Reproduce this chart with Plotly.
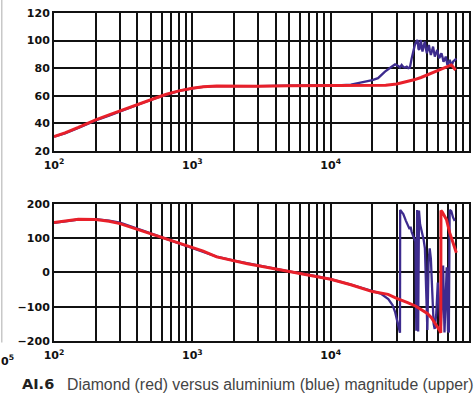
import plotly.graph_objects as go

# ---------------- data ----------------
# Magnitude (upper panel)
mag_freq_red = [100, 120, 150, 200, 250, 300, 370, 450, 550, 650, 800, 1000, 1200, 1500,
                2000, 3000, 5000, 7000, 10000, 15000, 20000, 25000, 30000, 35000, 40000,
                45000, 50000, 55000, 60000, 63000, 66000, 69000, 72000, 74500, 76500, 78000, 80000]
mag_red = [30.4, 33, 37, 42.5, 46, 49, 52, 55.5, 58.5, 61, 63.5, 65.4, 66.4, 67,
           66.8, 66.8, 67.2, 67.2, 67, 67, 67.2, 67.5, 68.5, 70, 71.5,
           73.2, 75, 76.8, 78.3, 79.4, 80.3, 80.8, 81.8, 82.3, 81, 80, 78.5]

mag_freq_blue = [100, 120, 150, 200, 250, 300, 370, 450, 550, 650, 800, 1000, 1200, 1500,
                 2000, 3000, 5000, 7000, 10000, 12000, 14000, 17000, 20000, 22000, 24700,
                 27600, 29200, 30800, 31700, 32600, 33500, 34500, 35500, 36400, 37400,
                 38500, 39500, 40600, 41500, 42500, 43100, 43700, 44300, 44900, 45500,
                 46100, 47000, 48000, 48800, 49600, 50500, 51300, 52100, 53000, 54000,
                 55000, 55800, 56600, 57700, 58900, 59900, 60800, 62000, 63200, 64300,
                 65400, 66600, 67900, 68800, 69800, 71200, 72600, 73600, 74600, 76700,
                 78900, 81000]
mag_blue = [30.2, 32.6, 36.5, 42, 45.5, 48.6, 51.6, 55.2, 58.3, 60.8, 63.4, 65.3, 66.4, 67,
            66.9, 66.9, 67.3, 67.4, 67.3, 67.6, 68, 69.5, 71.3, 72.7, 77.5,
            81, 82.8, 81.6, 80.5, 82.3, 80.8, 80.4, 81, 80, 80.4,
            87, 93, 96.8, 99, 100.4, 94, 93.2, 97, 100.4, 95,
            92, 96, 99.2, 94, 90.8, 94, 96.8, 93, 89.6, 92.5,
            95.6, 92, 88.4, 90.5, 93.2, 90, 87.2, 88.6, 90.8, 88,
            84.7, 86, 88.4, 85.5, 82.3, 84, 86, 84, 81.1, 84.7,
            86, 87]

# Phase (lower panel)
ph_freq_red = [100, 120, 150, 200, 250, 300, 370, 450, 550, 650, 800, 1000, 1200, 1500,
               2000, 2500, 3000, 4000, 5000, 7000, 10000, 14000, 20000, 26000, 30000,
               36000, 41000, 45000, 50000, 53500, 56500, 59800, 61500, 62500, 62700,
               64000, 65500, 68700, 72600, 77000, 81000]
ph_red = [145, 150, 155, 154, 149, 142, 130, 118, 107, 98, 85, 72, 62, 45,
          33, 25, 19, 10, 2, -8, -20, -36, -56, -64, -76,
          -88, -98, -108, -120, -132, -146, -161, -170, -176, 180,
          176, 168, 154, 115, 85, 57]

ph_freq_blue = [100, 120, 150, 200, 250, 300, 370, 450, 550, 650, 800, 1000, 1200, 1500,
                2000, 2500, 3000, 4000, 5000, 7000, 10000, 14000, 20000, 23000, 26100,
                28000, 29200, 30500, 31700, 31800, 33500, 35000, 36500, 37200, 37800,
                38500, 40000, 41000, 41600, 42200, 42900, 43500, 44300, 45500, 47000,
                48000, 49000, 50000, 51000, 52000, 53000, 54000, 55500, 56500, 58000,
                59500, 61000, 62500, 64000, 65000, 66500, 68000, 69000, 70500, 71500,
                72500, 74500, 76700, 78900]
ph_blue = [144, 149, 154, 155, 151, 145, 133, 120, 108, 98, 85, 72, 61, 46,
           34, 26, 20, 11, 3, -7, -20, -36, -56, -62, -78,
           -95, -115, -145, -176, 182, 170, 150, 130, 126, 133,
           118, 100, 90, -170, 182, -172, 180, 140, 120, 95,
           70, -100, -168, 30, 70, 40, -60, -150, -165, -120,
           -30, -110, -165, -80, 20, -175, -40, 15, -170, -175,
           182, 178, 160, 150]

decade_vals = [100, 1000, 10000, 100000]
decade_labels = ["10<sup>2</sup>", "10<sup>3</sup>", "10<sup>4</sup>", "10<sup>5</sup>"]
mag_ticks = [20, 40, 60, 80, 100, 120]
phase_ticks = [-200, -100, 0, 100, 200]
caption_tag = "AI.6"
caption_text = "Diamond (red) versus aluminium (blue) magnitude (upper)"

# ---------------- styling ----------------
RED = "#e8202a"
BLUE = "#3d2b8e"
W, H = 475, 396
ML, MR, MT, MB = 54, 4, 13, 54.5
PW = W - ML - MR
PH = H - MT - MB

def px_x(px):
    return (px - ML) / PW

def px_y(py):
    return (H - MB - py) / PH

tickfont = dict(family="DejaVu Sans", size=11, color="#111", weight="bold")

fig = go.Figure()
fig.add_trace(go.Scatter(x=mag_freq_blue, y=mag_blue, mode="lines",
                         line=dict(color=BLUE, width=2.3), xaxis="x", yaxis="y"))
fig.add_trace(go.Scatter(x=mag_freq_red, y=mag_red, mode="lines",
                         line=dict(color=RED, width=3), xaxis="x", yaxis="y"))
fig.add_trace(go.Scatter(x=ph_freq_blue, y=ph_blue, mode="lines",
                         line=dict(color=BLUE, width=2.3), xaxis="x2", yaxis="y2"))
fig.add_trace(go.Scatter(x=ph_freq_red, y=ph_red, mode="lines",
                         line=dict(color=RED, width=3), xaxis="x2", yaxis="y2"))

top_y0 = px_y(151)
bot_y1 = px_y(204)

xcommon = dict(type="log", range=[2, 5], tickmode="array", tickvals=decade_vals,
               ticktext=decade_labels, showgrid=True, gridcolor="#111", gridwidth=1.5,
               minor=dict(dtick="D1", showgrid=True, gridcolor="#111", gridwidth=1.5, ticks=""),
               showline=True, linecolor="#111", linewidth=2, mirror=True,
               ticks="", tickfont=tickfont, zeroline=False, ticklabelstandoff=3)
ycommon = dict(showgrid=True, gridcolor="#111", gridwidth=1.5,
               showline=True, linecolor="#111", linewidth=2, mirror=True,
               ticks="", tickfont=tickfont, zeroline=False, tickmode="array")

fig.update_layout(
    width=W, height=H,
    margin=dict(l=ML, r=MR, t=MT, b=MB),
    paper_bgcolor="white", plot_bgcolor="white",
    showlegend=False,
    xaxis=dict(domain=[0, 1], anchor="y", **xcommon),
    yaxis=dict(domain=[top_y0, 1], anchor="x", range=[20, 120], tickvals=mag_ticks, **ycommon),
    xaxis2=dict(domain=[0, 1], anchor="y2", **xcommon),
    yaxis2=dict(domain=[0, bot_y1], anchor="x2", range=[-200, 200], tickvals=phase_ticks, **ycommon),
    annotations=[
        dict(text=caption_tag, xref="paper", yref="paper", x=px_x(20), y=px_y(385),
             xanchor="left", yanchor="middle", showarrow=False,
             font=dict(family="DejaVu Sans", size=14.5, color="#222", weight="bold")),
        dict(text=caption_text, xref="paper", yref="paper", x=px_x(65), y=px_y(385),
             xanchor="left", yanchor="middle", showarrow=False,
             font=dict(family="Liberation Sans", size=15.8, color="#444")),
        dict(text="0<sup>5</sup>", xref="paper", yref="paper", x=px_x(-1), y=px_y(361),
             xanchor="left", yanchor="middle", showarrow=False,
             font=dict(family="DejaVu Sans", size=11, color="#111", weight="bold")),
    ],
    shapes=[
        dict(type="line", xref="paper", yref="paper", x0=px_x(1.5), x1=px_x(1.5),
             y0=px_y(343), y1=px_y(0), line=dict(color="#c8c8c8", width=1.5)),
    ],
)

fig.write_html("out.html")
